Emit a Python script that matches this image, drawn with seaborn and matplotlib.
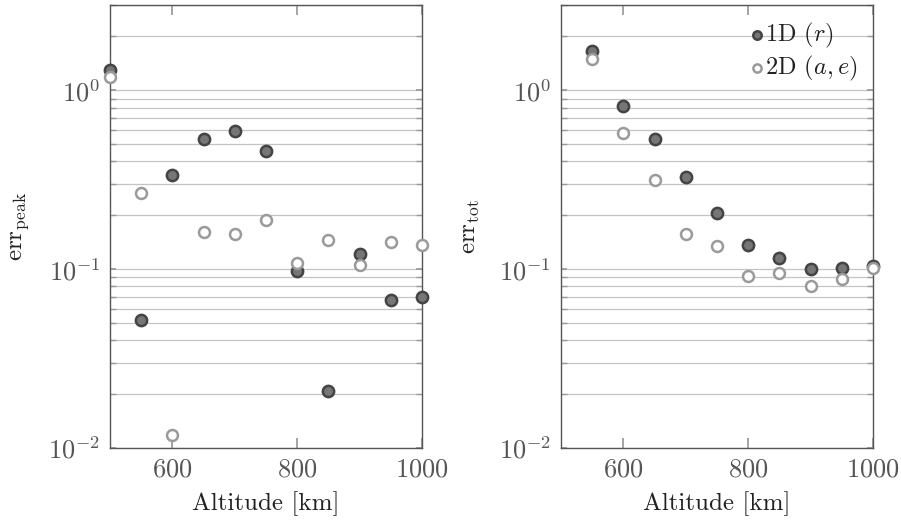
import numpy as np
import pandas as pd
import matplotlib
matplotlib.use("Agg")
import matplotlib.pyplot as plt
import matplotlib.ticker as mticker
import seaborn as sns

# ---- data ----
alt_left = [500, 550, 600, 650, 700, 750, 800, 850, 900, 950, 1000]
peak_1d = [1.30, 0.0519, 0.338, 0.535, 0.596, 0.460, 0.0975, 0.0208, 0.121, 0.0674, 0.0698]
peak_2d = [1.19, 0.267, 0.0118, 0.162, 0.158, 0.189, 0.108, 0.145, 0.105, 0.141, 0.136]

alt_right = [550, 600, 650, 700, 750, 800, 850, 900, 950, 1000]
tot_1d = [1.65, 0.815, 0.537, 0.328, 0.206, 0.136, 0.115, 0.100, 0.101, 0.104]
tot_2d = [1.50, 0.578, 0.317, 0.157, 0.134, 0.0918, 0.0954, 0.080, 0.0883, 0.1013]

label_1d = r"1D $(r)$"
label_2d = r"2D $(a, e)$"

sns.set_theme(style="white")
plt.rcParams["font.family"] = "serif"
plt.rcParams["font.serif"] = ["cmr10", "DejaVu Serif"]
plt.rcParams["mathtext.fontset"] = "cm"
plt.rcParams["axes.unicode_minus"] = False
plt.rcParams["axes.formatter.use_mathtext"] = True

FS = 18
TFS = 19
fig = plt.figure(figsize=(9.01, 5.26), dpi=100)
axL = fig.add_axes([0.1221, 0.1483, 0.3463, 0.8422])
axR = fig.add_axes([0.6226, 0.1483, 0.3463, 0.8422])

dark_face, dark_edge = "#767676", "#444444"
light_edge = "#9a9a9a"

def draw(ax, x, y1, y2, ylabel, legend):
    d1 = pd.DataFrame({"alt": x, "err": y1})
    d2 = pd.DataFrame({"alt": x, "err": y2})
    sns.scatterplot(data=d1, x="alt", y="err", ax=ax, s=66, color=dark_face,
                    edgecolor=dark_edge, linewidth=1.8, zorder=3, clip_on=False,
                    label=label_1d if legend else None, legend=False)
    sns.scatterplot(data=d2, x="alt", y="err", ax=ax, s=62, color="white",
                    edgecolor=light_edge, linewidth=1.8, zorder=4, clip_on=False,
                    label=label_2d if legend else None, legend=False)
    ax.set_yscale("log")
    ax.set_ylim(1e-2, 3.0)
    ax.set_xlim(500, 1000)
    ax.set_xticks([600, 800, 1000])
    ax.yaxis.set_major_locator(mticker.LogLocator(base=10, numticks=10))
    ax.yaxis.set_minor_locator(mticker.LogLocator(base=10, subs=np.arange(2, 10), numticks=10))
    ax.yaxis.set_minor_formatter(mticker.NullFormatter())
    ax.grid(True, which="both", axis="y", color="#c4c4c4", linewidth=0.9, zorder=0)
    ax.grid(False, axis="x")
    for s in ax.spines.values():
        s.set_color("#555555")
        s.set_linewidth(1.0)
    ax.tick_params(axis="both", which="major", direction="in", labelsize=TFS,
                   labelcolor="#555555", color="#999999", pad=7)
    ax.tick_params(axis="x", which="major", top=True, bottom=True, length=7)
    ax.tick_params(axis="y", which="both", left=True, right=True, length=4)
    ax.tick_params(axis="y", which="minor", direction="in", color="#999999")
    ax.set_xlabel("Altitude [km]", fontsize=FS, color="#222222", labelpad=7)
    ax.set_ylabel(ylabel, fontsize=FS, color="#222222", labelpad=12)
    ax.set_facecolor("white")

draw(axL, alt_left, peak_1d, peak_2d, r"$\mathrm{err}_{\mathrm{peak}}$", False)
draw(axR, alt_right, tot_1d, tot_2d, r"$\mathrm{err}_{\mathrm{tot}}$", True)

leg = axR.legend(loc="upper right", frameon=False, fontsize=FS - 0.5,
                 handletextpad=-0.2, borderaxespad=0.35, labelspacing=0.15,
                 markerscale=0.75, handlelength=1.0, borderpad=0.3)
for t in leg.get_texts():
    t.set_color("#222222")

fig.savefig("out.png", dpi=100, facecolor="white")
